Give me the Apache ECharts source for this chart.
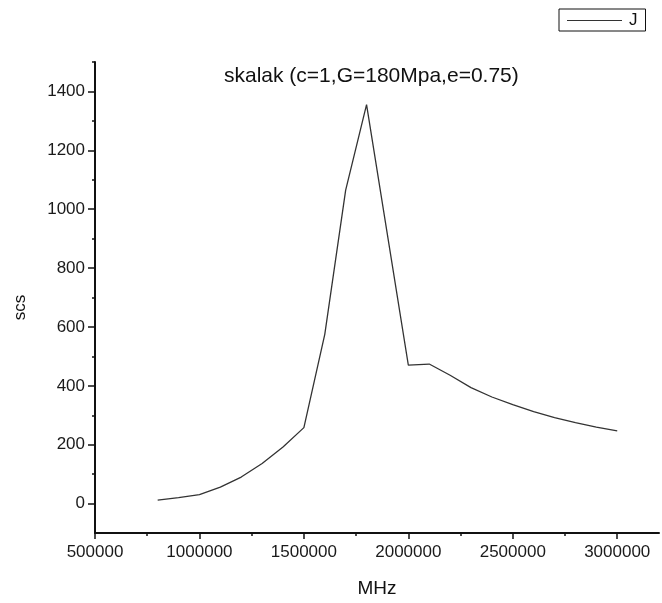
<!DOCTYPE html>
<html>
<head>
<meta charset="utf-8">
<script src="https://cdn.jsdelivr.net/npm/echarts@6/dist/echarts.min.js"></script>
<style>html,body{margin:0;padding:0;background:#fff}#c{width:662px;height:603px}</style>
</head>
<body>
<div id="c"></div>
<script>
const freq = [800000, 900000, 1000000, 1100000, 1200000, 1300000, 1400000, 1500000, 1600000, 1700000, 1800000, 2000000, 2100000, 2200000, 2300000, 2400000, 2500000, 2600000, 2700000, 2800000, 2900000, 3000000];
const scs = [12, 20, 30, 56, 90, 136, 192, 258, 575, 1065, 1355, 470, 474, 436, 394, 362, 336, 312, 292, 275, 260, 247];
const xTicks = [500000, 1000000, 1500000, 2000000, 2500000, 3000000];
const xMinor = [750000, 1250000, 1750000, 2250000, 2750000];
const yTicks = [0, 200, 400, 600, 800, 1000, 1200, 1400];
const yMinor = [100, 300, 500, 700, 900, 1100, 1300, 1500];
const seriesName = 'J';
const titleText = 'skalak (c=1,G=180Mpa,e=0.75)';

const font = 'Liberation Sans, Arial, sans-serif';
const chart = echarts.init(document.getElementById('c'), null, {renderer: 'canvas'});
const xBase = {type: 'value', min: 500000, max: 3200000, interval: 500000, splitLine: {show: false}};
const yBase = {type: 'value', min: -100, max: 1500, interval: 100, splitLine: {show: false}};
const plain = v => String(v);
chart.setOption({
  animation: false,
  backgroundColor: '#fff',
  title: {text: titleText, left: 219, top: 61, textStyle: {fontFamily: font, fontSize: 21, fontWeight: 'normal', color: '#111'}},
  legend: {
    data: [{name: seriesName, icon: 'rect'}], left: 559, top: 9, orient: 'horizontal',
    borderColor: '#111', borderWidth: 1, borderRadius: 0, padding: [3, 8, 2, 8],
    itemWidth: 55, itemHeight: 1, itemGap: 0,
    textStyle: {fontFamily: font, fontSize: 17, color: '#111', padding: [0, 0, 0, 2]}
  },
  grid: {left: 95, top: 62, right: 3, bottom: 67, containLabel: false},
  xAxis: [
    Object.assign({}, xBase, {
      name: 'MHz', nameLocation: 'middle', nameGap: 46,
      nameTextStyle: {fontFamily: font, fontSize: 19, color: '#111'},
      axisLine: {show: true, onZero: false, lineStyle: {color: '#111', width: 2}},
      axisTick: {show: true, customValues: xTicks, length: 6, lineStyle: {color: '#111', width: 1.5}},
      axisLabel: {customValues: xTicks, formatter: plain, fontFamily: font, fontSize: 17, color: '#1a1a1a', margin: 11}
    }),
    Object.assign({}, xBase, {
      position: 'bottom',
      axisLine: {show: false, onZero: false},
      axisTick: {show: true, customValues: xMinor, length: 3, lineStyle: {color: '#111', width: 1.5}},
      axisLabel: {show: false}
    })
  ],
  yAxis: [
    Object.assign({}, yBase, {
      name: 'scs', nameLocation: 'middle', nameGap: 66, nameRotate: 90,
      nameTextStyle: {fontFamily: font, fontSize: 17, color: '#111', padding: [0, 0, 0, -20]},
      axisLine: {show: true, onZero: false, lineStyle: {color: '#111', width: 2}},
      axisTick: {show: true, customValues: yTicks, length: 7, lineStyle: {color: '#111', width: 1.5}},
      axisLabel: {customValues: yTicks, formatter: plain, fontFamily: font, fontSize: 17, color: '#1a1a1a', margin: 10}
    }),
    Object.assign({}, yBase, {
      position: 'left',
      axisLine: {show: false, onZero: false},
      axisTick: {show: true, customValues: yMinor, length: 3, lineStyle: {color: '#111', width: 1.5}},
      axisLabel: {show: false}
    })
  ],
  series: [{
    name: seriesName, type: 'line', xAxisIndex: 0, yAxisIndex: 0,
    data: freq.map((f, i) => [f, scs[i]]),
    symbol: 'none', smooth: false,
    lineStyle: {color: '#333', width: 1.3},
    itemStyle: {color: '#333'}
  }]
});
</script>
</body>
</html>
